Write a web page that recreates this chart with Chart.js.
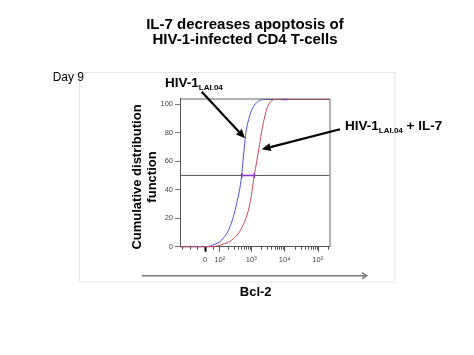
<!DOCTYPE html>
<html><head><meta charset="utf-8">
<script src="https://cdn.jsdelivr.net/npm/chart.js@4.4.1/dist/chart.umd.min.js"></script>
<style>
body{margin:0;background:#fff;}
#wrap{position:relative;width:474px;height:355px;overflow:hidden;font-family:"Liberation Sans",Arial,sans-serif;color:#000;background:#fff;}
canvas{position:absolute;left:0;top:0;}
.t{position:absolute;white-space:nowrap;line-height:1;}
.sub{font-size:8px;vertical-align:-3px;}
</style></head><body>
<div id="wrap">
<canvas id="c" width="474" height="355"></canvas>
<div class="t" style="left:95px;top:16.3px;width:300px;text-align:center;font-weight:bold;font-size:15px;line-height:15px;">IL-7 decreases apoptosis of<br>HIV-1-infected CD4 T-cells</div>
<div class="t" style="left:52.7px;top:70.8px;font-size:12px;">Day 9</div>
<div class="t" style="left:165px;top:75.6px;font-size:13.5px;font-weight:bold;">HIV-1<span class="sub">LAI.04</span></div>
<div class="t" style="left:345px;top:119.3px;font-size:13.5px;font-weight:bold;">HIV-1<span class="sub">LAI.04</span> + IL-7</div>
<div class="t" style="left:205.7px;top:284.7px;width:100px;text-align:center;font-size:13px;font-weight:bold;">Bcl-2</div>
<div class="t" style="left:44.2px;top:162px;width:200px;height:30px;text-align:center;font-size:13px;font-weight:bold;line-height:15px;transform:rotate(-90deg);transform-origin:50% 50%;">Cumulative distribution<br>function</div>
</div>
<script>
// ---- data (Bcl-2 fluorescence values, cumulative %) ----
const blueValues = [-230, 11, 55, 118, 225, 364, 517, 566, 624, 692, 857, 1092, 1438, 1962, 2300, 220000];
const bluePct    = [0, 0, 1.5, 4.7, 14, 30.4, 50, 60, 70, 80, 90, 97, 101, 103, 103.3, 103.3];
const redValues  = [-230, 40, 121, 255, 539, 920, 1239, 1710, 2028, 2600, 2965, 3236, 3900, 5164, 220000];
const redPct     = [0, 0, 1.5, 4.7, 14, 30.4, 50, 69, 80, 92.3, 97, 99.3, 102, 103.3, 103.3];
const gateMid    = [517, 1239];
const gateMidPct = [50, 50];
const gateTop    = [7870, 12740];
const gateTopPct = [103.3, 103.3];
const refLinePct = 50;
const xRange     = [-230, 220000];
const xTickValues = [0, 100, 1000, 10000, 100000];
const xTickLabels = ['0', '10\u00B2', '10\u00B3', '10\u2074', '10\u2075'];
const xMinorTicks = [-200, -100, -50, 50, 200,300,400,500,600,700,800,900, 2000,3000,4000,5000,6000,7000,8000,9000, 20000,30000,40000,50000,60000,70000,80000,90000, 200000];
const yTicks = [0, 20, 40, 60, 80, 100];

// logicle-like display transform
const C = 42;
const d = v => Math.log10((v + Math.sqrt(v * v + 4 * C * C)) / 2);
const pts = (xs, ys) => xs.map((v, i) => ({x: d(v), y: ys[i]}));

function arrow(ctx, x1, y1, x2, y2, w, hl, hw, color) {
  const a = Math.atan2(y2 - y1, x2 - x1);
  const bx = x2 - hl * Math.cos(a), by = y2 - hl * Math.sin(a);
  ctx.save();
  ctx.strokeStyle = color; ctx.fillStyle = color; ctx.lineWidth = w;
  ctx.beginPath(); ctx.moveTo(x1, y1); ctx.lineTo(bx, by); ctx.stroke();
  ctx.beginPath(); ctx.moveTo(x2, y2);
  ctx.lineTo(bx + hw / 2 * Math.sin(a), by - hw / 2 * Math.cos(a));
  ctx.lineTo(bx - hw / 2 * Math.sin(a), by + hw / 2 * Math.cos(a));
  ctx.closePath(); ctx.fill();
  ctx.restore();
}

const decor = {
  id: 'decor',
  beforeDraw(chart) {
    const ctx = chart.ctx;
    ctx.save();
    ctx.strokeStyle = '#e6e6e6'; ctx.lineWidth = 1;
    ctx.strokeRect(79.5, 72.5, 315.5, 209.5);
    ctx.restore();
  },
  afterDatasetsDraw(chart) {
    const ctx = chart.ctx, a = chart.chartArea, xs = chart.scales.x;
    ctx.save();
    ctx.strokeStyle = '#666'; ctx.lineWidth = 1;
    ctx.beginPath();
    ctx.moveTo(a.left, a.top + 0.5); ctx.lineTo(a.right + 0.5, a.top + 0.5); ctx.lineTo(a.right + 0.5, a.bottom);
    ctx.stroke();
    ctx.strokeStyle = '#555';
    ctx.beginPath();
    xMinorTicks.forEach(v => {
      const p = Math.round(xs.getPixelForValue(d(v))) + 0.5;
      ctx.moveTo(p, a.bottom); ctx.lineTo(p, a.bottom + 3);
    });
    ctx.stroke();
    ctx.restore();
  },
  afterDraw(chart) {
    const ctx = chart.ctx;
    arrow(ctx, 201.7, 91.7, 245, 138.3, 2.2, 9, 8, '#000');
    arrow(ctx, 340, 129.3, 261.7, 149.3, 2.2, 9, 8, '#000');
    ctx.save();
    ctx.strokeStyle = '#777'; ctx.lineWidth = 1.6;
    ctx.beginPath(); ctx.moveTo(141.7, 275.7); ctx.lineTo(366, 275.7); ctx.stroke();
    ctx.beginPath(); ctx.moveTo(362, 272.7); ctx.lineTo(366.7, 275.7); ctx.lineTo(362, 278.7); ctx.stroke();
    ctx.restore();
  }
};

new Chart(document.getElementById('c'), {
  type: 'line',
  data: {
    datasets: [
      {data: pts(gateMid, gateMidPct), borderColor: '#8a35d0', borderWidth: 1.5, pointStyle: 'line', pointRotation: 90, pointRadius: 2.5, pointBorderColor: '#8a35d0', pointBorderWidth: 1.5, order: 0, clip: 3},
      {data: pts(gateTop, gateTopPct), borderColor: '#8a35d0', borderWidth: 1.5, pointRadius: 0, order: 0, clip: 3},
      {data: pts(redValues, redPct), borderColor: '#c8485a', borderWidth: 1, pointRadius: 0, cubicInterpolationMode: 'monotone', order: 1, clip: 3},
      {data: pts(blueValues, bluePct), borderColor: '#4b4bdc', borderWidth: 1, pointRadius: 0, cubicInterpolationMode: 'monotone', order: 2, clip: 3},
      {data: pts(xRange, [refLinePct, refLinePct]), borderColor: '#555', borderWidth: 1, pointRadius: 0, order: 3}
    ]
  },
  options: {
    responsive: false, animation: false, events: [],
    parsing: false,
    layout: {padding: {left: 150, right: 144.5, top: 98.5, bottom: 86.3}},
    plugins: {legend: {display: false}, tooltip: {enabled: false}},
    scales: {
      x: {
        type: 'linear', min: d(xRange[0]), max: d(xRange[1]),
        afterBuildTicks: s => { s.ticks = xTickValues.map(v => ({value: d(v)})); },
        afterFit: s => { s.height = 22; },
        ticks: {autoSkip: false, maxRotation: 0, padding: 4, color: '#444',
          font: {family: 'Liberation Sans', size: 7.5},
          callback: (v, i) => xTickLabels[i]},
        grid: {drawOnChartArea: false, tickLength: 5, color: '#555',
          tickWidth: c => (c.index === 0 ? 2 : 1),
          tickColor: c => (c.index === 0 ? '#000' : '#555')},
        border: {color: '#555', width: 1}
      },
      y: {
        type: 'linear', min: 0, max: 104,
        afterBuildTicks: s => { s.ticks = yTicks.map(v => ({value: v})); },
        afterFit: s => { s.width = 30; },
        ticks: {padding: 2, color: '#444', font: {family: 'Liberation Sans', size: 7.5}},
        grid: {drawOnChartArea: false, tickLength: 5, color: '#777'},
        border: {color: '#555', width: 1}
      }
    }
  },
  plugins: [decor]
});
</script>
</body></html>
